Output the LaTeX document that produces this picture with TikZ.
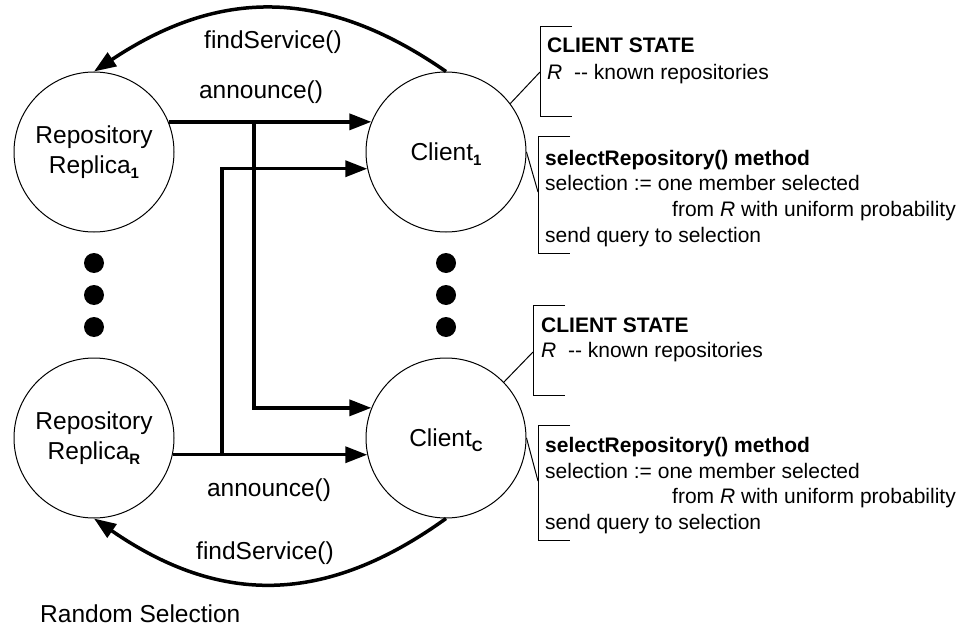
\documentclass[tikz,border=0pt]{standalone}
\usepackage{fontspec}
\setmainfont{Liberation Sans}
\usetikzlibrary{arrows.meta,calc}
\newcommand{\nsub}[1]{\smash{\raisebox{-5pt}{\fontsize{15}{15}\selectfont\bfseries #1}}}
\begin{document}
\begin{tikzpicture}[x=1pt,y=-1pt,
  circ/.style={circle, draw, line width=1pt, minimum size=160pt, inner sep=0pt, align=center,
    font=\fontsize{24.5}{30}\selectfont},
  lbl/.style={font=\fontsize{24.5}{30}\selectfont, anchor=base, inner sep=0pt},
  note/.style={font=\fontsize{21}{25}\selectfont, anchor=base west, inner sep=0pt},
  flow/.style={line width=3.5pt, -{Triangle[length=22pt,width=16pt]}},
  brk/.style={line width=1pt},
  blob/.style={circle, fill, minimum size=20pt, inner sep=0pt}]
\useasboundingbox (0,0) rectangle (965,628);
% circles
\node[circ] (r1) at (94,152) {Repository\\Replica\nsub{1}};
\node[circ] (c1) at (446,152) {Client\nsub{1}};
\node[circ] (rR) at (94,438) {Repository\\Replica\nsub{R}};
\node[circ] (cC) at (446,438) {Client\nsub{C}};
% dots
\node[blob] (dl1) at (94,263) {};
\node[blob] (dl2) at (94,295) {};
\node[blob] (dl3) at (94,327) {};
\node[blob] (dr1) at (446,263) {};
\node[blob] (dr2) at (446,295) {};
\node[blob] (dr3) at (446,327) {};
% findService arcs
\draw[flow] (c1.north) .. controls +(-121,-84) and +(126,-84) .. (r1.north);
\draw[flow] (cC.south) .. controls +(-121,87) and +(126,87) .. (rR.south);
% announce arrows
\coordinate (j1) at (254,122.03);
\coordinate (j2) at (222,454.6);
\draw[flow] (r1.22) -- (c1.158);
\draw[flow] (j1) |- (cC.158);
\draw[flow] (rR.-12) -- (cC.192);
\draw[flow] (j2) |- (c1.192);
% labels
\node[lbl] (fs1) at (273,49) {findService()};
\node[lbl] (an1) at (261,99) {announce()};
\node[lbl] (an2) at (269,496) {announce()};
\node[lbl] (fs2) at (265,559) {findService()};
\node[lbl, anchor=base west] (rs) at (40,622) {Random Selection};
% upper client state
\draw[brk] (572,27) -- (540,27) -- (540,117) -- (572,117);
\coordinate (b1) at (540,72);
\draw[brk] (c1.37) -- (b1);
\node[note] (t1a) at (547,52.6) {\textbf{CLIENT STATE}};
\node[note] (t1b) at (547,79.6) {\textit{R}\ \ {-}{-} known repositories};
% upper method
\draw[brk] (570,137) -- (538,137) -- (538,253) -- (570,253);
\coordinate (b2) at (538,192);
\draw[brk] (c1.east) -- (b2);
\node[note] (m1a) at (545,165.5) {\textbf{selectRepository() method}};
\node[note] (m1b) at (545,191) {selection := one member selected};
\node[note] (m1c) at (672,216.5) {from \textit{R} with uniform probability};
\node[note] (m1d) at (545,242) {send query to selection};
% lower client state
\draw[brk] (565,305) -- (533,305) -- (533,395) -- (565,395);
\coordinate (b3) at (533,352);
\draw[brk] (cC.44) -- (b3);
\node[note] (t2a) at (541,332.6) {\textbf{CLIENT STATE}};
\node[note] (t2b) at (541,357.6) {\textit{R}\ \ {-}{-} known repositories};
% lower method
\draw[brk] (570,425) -- (538,425) -- (538,540) -- (570,540);
\coordinate (b4) at (538,481);
\draw[brk] (cC.east) -- (b4);
\node[note] (m2a) at (545,452.5) {\textbf{selectRepository() method}};
\node[note] (m2b) at (545,478) {selection := one member selected};
\node[note] (m2c) at (672,503.5) {from \textit{R} with uniform probability};
\node[note] (m2d) at (545,529) {send query to selection};
\end{tikzpicture}
\end{document}
